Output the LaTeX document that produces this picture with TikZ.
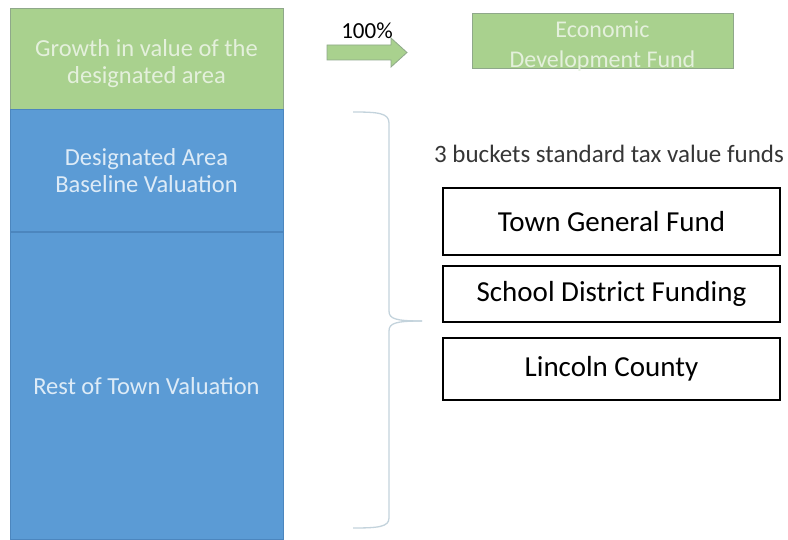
\documentclass[tikz,border=0pt]{standalone}
\usepackage{fontspec}
\setmainfont{Carlito}
\begin{document}
\definecolor{growgreen}{HTML}{A9D18E}
\definecolor{growedge}{HTML}{8FA88A}
\definecolor{growtext}{HTML}{E4F0DC}
\definecolor{valblue}{HTML}{5B9BD5}
\definecolor{valedge}{HTML}{4C86BE}
\definecolor{valtext}{HTML}{DDEBF7}
\definecolor{bracegray}{HTML}{C3D3DC}
\definecolor{labelgray}{HTML}{363636}
\begin{tikzpicture}[x=1pt,y=-1pt,
  colbox/.style={draw, line width=1pt, inner sep=0pt, align=center,
    font=\fontsize{24.5}{27}\selectfont},
  growbox/.style={colbox, fill=growgreen, draw=growedge, text=growtext},
  valbox/.style={colbox, fill=valblue, draw=valedge, text=valtext},
  growlabel/.style={inner sep=0pt, align=center, text=growtext},
  fundbox/.style={draw=black, line width=1.5pt, fill=white, inner sep=0pt,
    minimum width=337pt, font=\fontsize{29}{32}\selectfont},
  bracestyle/.style={draw=bracegray, line width=1.3pt},
]
\useasboundingbox (0,0) rectangle (788,540);

% stacked valuation column
\node[growbox, minimum width=273pt, minimum height=101pt] (growth) at (146.5,59.5) {};
\node[growlabel, font=\fontsize{24.5}{27}\selectfont] (growthtext) at (146.5,64)
  {Growth in value of the\\designated area};
\node[valbox, minimum width=273pt, minimum height=122pt] (baseline) at (146.5,171)
  {Designated Area\\Baseline Valuation};
\node[valbox, minimum width=273pt, minimum height=306pt] (rest) at (146.5,386)
  {Rest of Town Valuation};

% block arrow toward the economic development fund
\draw[fill=growgreen, draw=growedge, line width=0.8pt]
  (327,45) -- (391,45) -- (391,38) -- (407,52.5) -- (391,67) -- (391,60) -- (327,60) -- cycle;
\node[anchor=base, inner sep=0pt, font=\fontsize{23}{26}\selectfont] (pct) at (367,39) {100\%};

\node[draw=growedge, fill=growgreen, line width=1pt, inner sep=0pt,
  minimum width=261pt, minimum height=55pt] (econ) at (602.5,41.5) {};
\node[growlabel, font=\fontsize{24}{30}\selectfont] (econtext) at (602.5,46)
  {Economic\\Development Fund};

% brace grouping the two blue sections
\coordinate (btop) at (353,112);
\coordinate (btip) at (422,321);
\coordinate (bbot) at (353,528);
\draw[bracestyle] (btop) .. controls (378,112) and (389,113) .. (389,123)
  -- (389,311) .. controls (389,319) and (396,321) .. (btip);
\draw[bracestyle] (btip) .. controls (396,321) and (389,323) .. (389,331)
  -- (389,518) .. controls (389,527) and (378,528) .. (bbot);

% standard tax funds
\node[anchor=base, inner sep=0pt, text=labelgray, font=\fontsize{25}{28}\selectfont]
  (buckets) at (609,163) {3 buckets standard tax value funds};
\node[fundbox, minimum height=67pt] (town) at (611.5,221.5) {Town General Fund};
\node[fundbox, minimum height=56pt] (school) at (611.5,294) {School District Funding};
\node[fundbox, minimum height=62pt] (county) at (611.5,369) {Lincoln County};
\end{tikzpicture}
\end{document}
